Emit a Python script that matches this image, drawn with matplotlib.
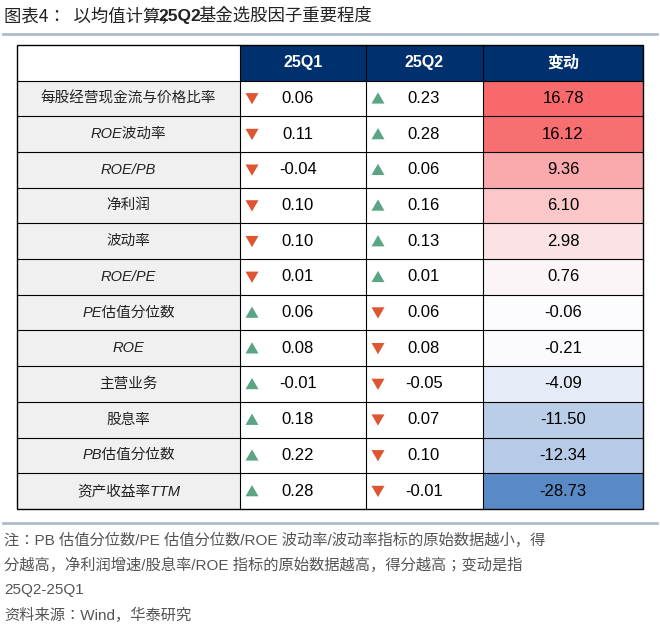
import matplotlib
matplotlib.use("Agg")
import matplotlib.pyplot as plt
from matplotlib import font_manager
from matplotlib.patches import Rectangle, RegularPolygon
import numpy as np

factors = ["每股经营现金流与价格比率", "ROE波动率", "ROE/PB", "净利润", "波动率", "ROE/PE",
           "PE估值分位数", "ROE", "主营业务", "股息率", "PB估值分位数", "资产收益率TTM"]
q1 = [0.06, 0.11, -0.04, 0.10, 0.10, 0.01, 0.06, 0.08, -0.01, 0.18, 0.22, 0.28]
q2 = [0.23, 0.28, 0.06, 0.16, 0.13, 0.01, 0.06, 0.08, -0.05, 0.07, 0.10, -0.01]
change = [16.78, 16.12, 9.36, 6.10, 2.98, 0.76, -0.06, -0.21, -4.09, -11.50, -12.34, -28.73]
headers = ["25Q1", "25Q2", "变动"]

# find whatever CJK family matplotlib registered
cjk_names = sorted({f.name for f in font_manager.fontManager.ttflist if "CJK" in f.name})
CJK = next((n for n in cjk_names if "SC" in n), cjk_names[0] if cjk_names else "DejaVu Sans")
NUM = "Liberation Sans"
NAVY = "#00306e"
GREEN = "#5ba585"
RED = "#dd5531"
LABEL_BG = "#f0f0f0"


def mix(c1, c2, t):
    a = np.array(matplotlib.colors.to_rgb(c1))
    b = np.array(matplotlib.colors.to_rgb(c2))
    return tuple(a + (b - a) * t)


def change_color(v):
    if v >= 0:
        return mix("#fcfcff", "#f8696b", v / max(change))
    return mix("#fcfcff", "#5a8ac6", v / min(change))


fig = plt.figure(figsize=(6.6, 6.35), dpi=100)
ax = fig.add_axes([0, 0, 1, 1])
ax.set_xlim(0, 660)
ax.set_ylim(635, 0)
ax.axis("off")

# title
ax.text(4, 16, "图表4：  以均值计算，", fontsize=12.5, family=CJK, va="center", color="#222")
ax.text(158, 16, "25Q2", fontsize=12.5, family=NUM, weight="bold", va="center", color="#222")
ax.text(198, 16, "基金选股因子重要程度", fontsize=12.5, family=CJK, va="center", color="#222")
ax.plot([3, 657], [34, 34], color="#aebbc9", lw=2)

cols = [17, 240, 366, 483, 643]
top, hh, rh = 45, 35.5, 35.7

# header
ax.add_patch(Rectangle((cols[0], top), cols[1] - cols[0], hh, fc="white", ec="none"))
for i, h in enumerate(headers):
    ax.add_patch(Rectangle((cols[i + 1], top), cols[i + 2] - cols[i + 1], hh, fc=NAVY, ec="none"))
    ax.text((cols[i + 1] + cols[i + 2]) / 2, top + hh / 2, h, color="white", fontsize=11.5,
            weight="bold", family=[NUM, CJK], ha="center", va="center")

for r, name in enumerate(factors):
    y0 = top + hh + r * rh
    yc = y0 + rh / 2
    ax.add_patch(Rectangle((cols[0], y0), cols[1] - cols[0], rh, fc=LABEL_BG, ec="none"))
    ax.add_patch(Rectangle((cols[1], y0), cols[3] - cols[1], rh, fc="white", ec="none"))
    ax.add_patch(Rectangle((cols[3], y0), cols[4] - cols[3], rh, fc=change_color(change[r]), ec="none"))
    ax.text((cols[0] + cols[1]) / 2, yc, name, fontsize=10.5, family=[NUM, CJK], style="italic",
            ha="center", va="center", color="#222")
    up = change[r] > 0
    for j, v in enumerate([q1[r], q2[r]]):
        is_up = up if j == 1 else not up
        x = cols[1 + j] + 12
        # y axis is inverted, so orientation pi points up on screen
        ax.add_patch(RegularPolygon((x, yc + (1.5 if is_up else -1.5)), 3, radius=7.5,
                                    orientation=np.pi if is_up else 0,
                                    fc=GREEN if is_up else RED, ec="none"))
        ax.text(cols[1 + j] + 58, yc, f"{v:.2f}", fontsize=12, family=NUM, ha="center", va="center")
    ax.text((cols[3] + cols[4]) / 2, yc, f"{change[r]:.2f}", fontsize=12, family=NUM,
            ha="center", va="center")

# grid lines
bottom = top + hh + len(factors) * rh
for c in cols[1:-1]:
    ax.plot([c, c], [top, bottom], color="black", lw=0.8)
for r in range(len(factors)):
    y = top + hh + r * rh
    ax.plot([cols[0], cols[4]], [y, y], color="black", lw=0.8)
ax.add_patch(Rectangle((cols[0], top), cols[4] - cols[0], bottom - top, fc="none", ec="black", lw=1))

ax.plot([3, 657], [523, 523], color="#aebbc9", lw=2)
notes = ["注：PB 估值分位数/PE 估值分位数/ROE 波动率/波动率指标的原始数据越小，得",
         "分越高，净利润增速/股息率/ROE 指标的原始数据越高，得分越高；变动是指",
         "25Q2-25Q1",
         "资料来源：Wind，华泰研究"]
for i, t in enumerate(notes):
    ax.text(4, 540 + i * 25, t, fontsize=11, family=[NUM, CJK], va="center", color="#555")

fig.savefig("out.png", dpi=100)
